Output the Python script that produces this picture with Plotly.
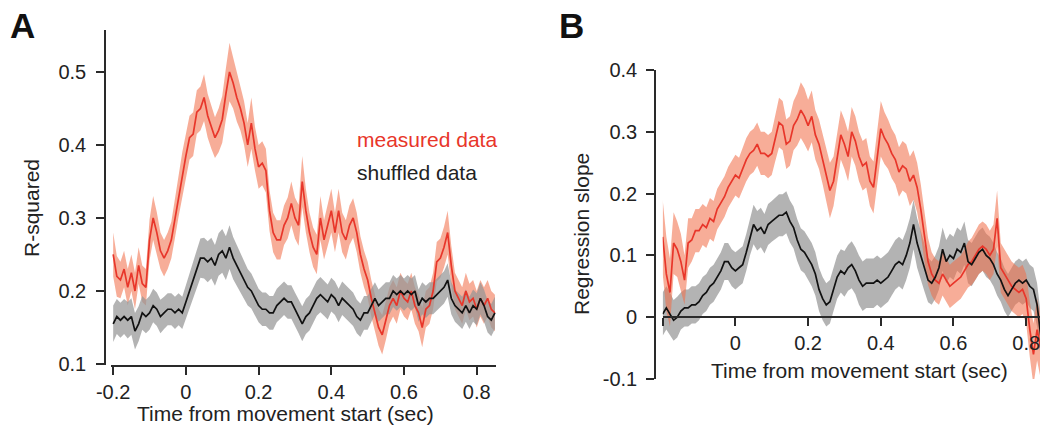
import plotly.graph_objects as go

W, H = 1040, 425

# ---------------- data ----------------
time_a = [round(-0.20 + 0.01 * i, 2) for i in range(106)]   # -0.20 .. 0.85

measured_a = [
    0.25, 0.22, 0.215, 0.23, 0.205, 0.225, 0.20, 0.235, 0.21, 0.205,
    0.27, 0.30, 0.28, 0.255, 0.245, 0.255, 0.27, 0.30, 0.33, 0.36,
    0.385, 0.41, 0.415, 0.445, 0.45, 0.465, 0.44, 0.425, 0.41, 0.42,
    0.435, 0.47, 0.50, 0.485, 0.465, 0.45, 0.43, 0.40, 0.43, 0.395,
    0.37, 0.375, 0.365, 0.31, 0.28, 0.27, 0.27, 0.29, 0.30, 0.32,
    0.30, 0.29, 0.35, 0.31, 0.28, 0.26, 0.25, 0.30, 0.27, 0.29,
    0.31, 0.28, 0.31, 0.28, 0.27, 0.29, 0.30, 0.28, 0.25, 0.23,
    0.215, 0.19, 0.17, 0.15, 0.14, 0.16, 0.18, 0.19, 0.18, 0.20,
    0.19, 0.185, 0.20, 0.18, 0.17, 0.15, 0.175, 0.18, 0.20, 0.24,
    0.245, 0.26, 0.28, 0.235, 0.20, 0.19, 0.18, 0.20, 0.185, 0.19,
    0.175, 0.19, 0.18, 0.19, 0.175, 0.17,
]
measured_a_err = [
    0.03, 0.028, 0.025, 0.025, 0.025, 0.025, 0.025, 0.025, 0.025, 0.025,
    0.028, 0.03, 0.028, 0.025, 0.025, 0.025, 0.025, 0.027, 0.028, 0.03,
    0.03, 0.03, 0.03, 0.03, 0.03, 0.032, 0.03, 0.03, 0.028, 0.03,
    0.032, 0.035, 0.04, 0.035, 0.033, 0.03, 0.03, 0.03, 0.035, 0.03,
    0.03, 0.03, 0.03, 0.028, 0.027, 0.027, 0.027, 0.027, 0.028, 0.03,
    0.028, 0.028, 0.035, 0.03, 0.027, 0.027, 0.027, 0.03, 0.027, 0.027,
    0.03, 0.027, 0.03, 0.027, 0.027, 0.027, 0.027, 0.027, 0.025, 0.025,
    0.025, 0.025, 0.025, 0.025, 0.027, 0.027, 0.025, 0.025, 0.025, 0.025,
    0.025, 0.025, 0.025, 0.025, 0.025, 0.027, 0.025, 0.025, 0.025, 0.027,
    0.027, 0.028, 0.03, 0.027, 0.025, 0.025, 0.025, 0.025, 0.025, 0.025,
    0.025, 0.025, 0.025, 0.025, 0.025, 0.025,
]
shuffled_a = [
    0.155, 0.165, 0.16, 0.165, 0.16, 0.165, 0.145, 0.155, 0.17, 0.165,
    0.17, 0.18, 0.175, 0.165, 0.17, 0.175, 0.175, 0.17, 0.175, 0.17,
    0.185, 0.20, 0.215, 0.23, 0.245, 0.245, 0.24, 0.245, 0.235, 0.25,
    0.255, 0.245, 0.26, 0.245, 0.235, 0.225, 0.215, 0.205, 0.20, 0.19,
    0.18, 0.175, 0.175, 0.17, 0.17, 0.18, 0.185, 0.19, 0.185, 0.185,
    0.175, 0.165, 0.155, 0.165, 0.17, 0.18, 0.19, 0.195, 0.19, 0.185,
    0.195, 0.19, 0.18, 0.19, 0.185, 0.18, 0.175, 0.165, 0.16, 0.17,
    0.17, 0.18, 0.19, 0.18, 0.185, 0.19, 0.19, 0.20, 0.195, 0.20,
    0.195, 0.20, 0.195, 0.20, 0.18, 0.19, 0.185, 0.19, 0.19, 0.195,
    0.20, 0.205, 0.215, 0.19, 0.18, 0.175, 0.17, 0.18, 0.17, 0.18,
    0.175, 0.19, 0.18, 0.165, 0.16, 0.17,
]
shuffled_a_err = [
    0.025, 0.024, 0.024, 0.024, 0.025, 0.025, 0.025, 0.024, 0.023, 0.023,
    0.023, 0.023, 0.023, 0.023, 0.022, 0.022, 0.022, 0.022, 0.022, 0.022,
    0.023, 0.024, 0.025, 0.026, 0.027, 0.028, 0.028, 0.028, 0.028, 0.029,
    0.03, 0.03, 0.03, 0.029, 0.028, 0.027, 0.026, 0.025, 0.024, 0.024,
    0.023, 0.023, 0.023, 0.023, 0.023, 0.023, 0.023, 0.023, 0.023, 0.023,
    0.023, 0.023, 0.024, 0.024, 0.024, 0.024, 0.024, 0.024, 0.024, 0.024,
    0.023, 0.023, 0.023, 0.023, 0.023, 0.023, 0.023, 0.023, 0.023, 0.023,
    0.023, 0.023, 0.022, 0.022, 0.022, 0.022, 0.022, 0.022, 0.022, 0.022,
    0.022, 0.022, 0.022, 0.022, 0.022, 0.022, 0.022, 0.022, 0.022, 0.022,
    0.022, 0.022, 0.023, 0.022, 0.022, 0.022, 0.022, 0.022, 0.022, 0.022,
    0.022, 0.022, 0.022, 0.022, 0.022, 0.022,
]

time_b = [round(-0.20 + 0.01 * i, 2) for i in range(105)]   # -0.20 .. 0.84

measured_b = [
    0.13, 0.07, 0.04, 0.12, 0.11, 0.09, 0.06, 0.12, 0.125, 0.14,
    0.14, 0.15, 0.145, 0.16, 0.155, 0.175, 0.185, 0.195, 0.21, 0.22,
    0.23, 0.225, 0.24, 0.255, 0.265, 0.27, 0.28, 0.265, 0.265, 0.26,
    0.265, 0.29, 0.315, 0.31, 0.28, 0.285, 0.31, 0.32, 0.335, 0.325,
    0.31, 0.325, 0.295, 0.28, 0.255, 0.23, 0.205, 0.22, 0.26, 0.295,
    0.28, 0.26, 0.30, 0.285, 0.26, 0.245, 0.25, 0.22, 0.21, 0.26,
    0.305, 0.29, 0.28, 0.265, 0.255, 0.235, 0.245, 0.24, 0.22, 0.23,
    0.21, 0.175, 0.13, 0.09, 0.07, 0.06, 0.055, 0.07, 0.06, 0.05,
    0.055, 0.06, 0.065, 0.075, 0.085, 0.09, 0.10, 0.11, 0.115, 0.11,
    0.10, 0.11, 0.16, 0.08, 0.07, 0.06, 0.05, 0.045, 0.04, 0.045,
    0.03, -0.02, -0.06, -0.02, -0.05,
]
measured_b_err = [
    0.06, 0.06, 0.055, 0.05, 0.045, 0.045, 0.04, 0.04, 0.035, 0.035,
    0.035, 0.033, 0.033, 0.033, 0.033, 0.033, 0.033, 0.033, 0.033, 0.033,
    0.033, 0.033, 0.033, 0.035, 0.035, 0.035, 0.035, 0.035, 0.035, 0.035,
    0.035, 0.037, 0.04, 0.04, 0.04, 0.04, 0.04, 0.042, 0.045, 0.045,
    0.042, 0.042, 0.04, 0.04, 0.04, 0.04, 0.045, 0.04, 0.04, 0.04,
    0.04, 0.04, 0.04, 0.04, 0.04, 0.04, 0.04, 0.04, 0.042, 0.045,
    0.045, 0.042, 0.04, 0.04, 0.04, 0.04, 0.04, 0.04, 0.04, 0.04,
    0.04, 0.04, 0.04, 0.038, 0.035, 0.035, 0.035, 0.035, 0.035, 0.035,
    0.035, 0.035, 0.035, 0.035, 0.037, 0.038, 0.04, 0.04, 0.04, 0.04,
    0.04, 0.04, 0.045, 0.04, 0.04, 0.04, 0.04, 0.04, 0.04, 0.04,
    0.04, 0.045, 0.05, 0.05, 0.05,
]
shuffled_b = [
    0.005, 0.015, 0.005, -0.005, 0.0, 0.01, 0.015, 0.015, 0.02, 0.02,
    0.025, 0.035, 0.04, 0.05, 0.055, 0.065, 0.075, 0.09, 0.09, 0.08,
    0.075, 0.08, 0.085, 0.105, 0.13, 0.15, 0.14, 0.145, 0.135, 0.15,
    0.155, 0.16, 0.165, 0.165, 0.17, 0.155, 0.145, 0.125, 0.11, 0.105,
    0.095, 0.085, 0.07, 0.045, 0.03, 0.02, 0.025, 0.045, 0.065, 0.075,
    0.07, 0.08, 0.085, 0.075, 0.06, 0.05, 0.055, 0.055, 0.055, 0.06,
    0.055, 0.06, 0.065, 0.075, 0.085, 0.09, 0.085, 0.10, 0.12, 0.15,
    0.12, 0.10, 0.08, 0.06, 0.055, 0.065, 0.08, 0.11, 0.09, 0.10,
    0.095, 0.11, 0.105, 0.12, 0.09, 0.085, 0.095, 0.105, 0.11, 0.10,
    0.095, 0.085, 0.07, 0.06, 0.045, 0.035, 0.045, 0.055, 0.06, 0.055,
    0.06, 0.05, 0.045, 0.02, -0.03,
]
shuffled_b_err = [
    0.035, 0.035, 0.035, 0.033, 0.033, 0.03, 0.03, 0.03, 0.03, 0.03,
    0.03, 0.03, 0.03, 0.03, 0.03, 0.03, 0.03, 0.03, 0.03, 0.03,
    0.03, 0.03, 0.03, 0.03, 0.03, 0.032, 0.032, 0.032, 0.032, 0.033,
    0.033, 0.033, 0.034, 0.034, 0.034, 0.034, 0.034, 0.034, 0.034, 0.034,
    0.034, 0.035, 0.035, 0.035, 0.035, 0.035, 0.035, 0.035, 0.035, 0.035,
    0.037, 0.037, 0.038, 0.038, 0.04, 0.04, 0.04, 0.04, 0.04, 0.04,
    0.04, 0.04, 0.04, 0.04, 0.04, 0.04, 0.04, 0.04, 0.04, 0.04,
    0.04, 0.04, 0.038, 0.036, 0.035, 0.035, 0.035, 0.035, 0.035, 0.035,
    0.035, 0.035, 0.035, 0.035, 0.035, 0.035, 0.035, 0.035, 0.035, 0.035,
    0.035, 0.035, 0.035, 0.035, 0.035, 0.035, 0.035, 0.035, 0.035, 0.035,
    0.035, 0.035, 0.035, 0.035, 0.035,
]

ticks_a_x = [-0.2, 0, 0.2, 0.4, 0.6, 0.8]
ticks_a_x_text = ["-0.2", "0", "0.2", "0.4", "0.6", "0.8"]
ticks_a_y = [0.1, 0.2, 0.3, 0.4, 0.5]
ticks_a_y_text = ["0.1", "0.2", "0.3", "0.4", "0.5"]
ticks_b_x = [-0.2, 0, 0.2, 0.4, 0.6, 0.8]
ticks_b_x_text = ["", "0", "0.2", "0.4", "0.6", "0.8"]
ticks_b_y = [-0.1, 0, 0.1, 0.2, 0.3, 0.4]
ticks_b_y_text = ["-0.1", "0", "0.1", "0.2", "0.3", "0.4"]

# ---------------- styling ----------------
FONT = "Liberation Sans, Arial, sans-serif"
TXT = "#222222"
AXC = "#2a2a2a"
RED = "#e8362a"
RED_BAND = "rgba(240,108,72,0.56)"
GREY_BAND = "rgba(150,150,150,0.72)"
BLACK = "#111111"


def band(x, m, e, color, xa, ya):
    up = [a + b for a, b in zip(m, e)]
    lo = [a - b for a, b in zip(m, e)]
    return go.Scatter(x=x + x[::-1], y=up + lo[::-1], fill="toself",
                      fillcolor=color, line=dict(width=0), mode="lines",
                      hoverinfo="skip", showlegend=False, xaxis=xa, yaxis=ya)


def line(x, m, color, xa, ya, name):
    return go.Scatter(x=x, y=m, mode="lines", line=dict(color=color, width=1.7),
                      name=name, showlegend=False, xaxis=xa, yaxis=ya)


fig = go.Figure()
fig.add_trace(band(time_a, measured_a, measured_a_err, RED_BAND, "x", "y"))
fig.add_trace(band(time_a, shuffled_a, shuffled_a_err, GREY_BAND, "x", "y"))
fig.add_trace(line(time_a, measured_a, RED, "x", "y", "measured data"))
fig.add_trace(line(time_a, shuffled_a, BLACK, "x", "y", "shuffled data"))

fig.add_trace(band(time_b, shuffled_b, shuffled_b_err, GREY_BAND, "x2", "y2"))
fig.add_trace(band(time_b, measured_b, measured_b_err, RED_BAND, "x2", "y2"))
fig.add_trace(line(time_b, measured_b, RED, "x2", "y2", "measured data"))
fig.add_trace(line(time_b, shuffled_b, BLACK, "x2", "y2", "shuffled data"))


def px_x(p):
    return p / W


def px_y(p):
    return 1 - p / H


tickfont = dict(family=FONT, size=20, color=TXT)
common = dict(showgrid=False, zeroline=False, showline=True, linecolor=AXC,
              linewidth=1.6, ticks="outside", ticklen=8, tickwidth=1.6,
              tickcolor=AXC, tickfont=tickfont, fixedrange=True,
              automargin=False)

ya_dom = [px_y(365), px_y(30)]
yb_dom = [px_y(379), px_y(70)]
yb_rng = [-0.1, 0.4]
xb_pos = yb_dom[0] + (0 - yb_rng[0]) / (yb_rng[1] - yb_rng[0]) * (yb_dom[1] - yb_dom[0])

fig.update_layout(
    template="none",
    width=W, height=H, margin=dict(l=0, r=0, t=0, b=0, pad=0, autoexpand=False),
    paper_bgcolor="white", plot_bgcolor="white",
    xaxis=dict(domain=[px_x(111), px_x(496)], range=[-0.206, 0.853], anchor="y",
               tickvals=ticks_a_x, ticktext=ticks_a_x_text,
               ticklabeloverflow="allow", **common),
    yaxis=dict(domain=ya_dom, range=[0.0986, 0.5575], anchor="free",
               position=px_x(105), tickvals=ticks_a_y, ticktext=ticks_a_y_text,
               ticklabelstandoff=6, **common),
    xaxis2=dict(domain=[px_x(662.7), 1.0], range=[-0.2, 0.838], anchor="free",
                position=xb_pos, tickvals=ticks_b_x, ticktext=ticks_b_x_text,
                ticklabeloverflow="allow", **common),
    yaxis2=dict(domain=yb_dom, range=yb_rng, anchor="free", position=px_x(655),
                tickvals=ticks_b_y, ticktext=ticks_b_y_text, ticklabelstandoff=5,
                **common),
    showlegend=False,
)

title_font = dict(family=FONT, size=21, color=TXT)
ann = [
    dict(text="A", x=px_x(22.5), y=px_y(26), font=dict(family=FONT, size=35, color="#111", weight="bold")),
    dict(text="B", x=px_x(571), y=px_y(25.5), font=dict(family=FONT, size=35, color="#111", weight="bold")),
    dict(text="R-squared", x=px_x(31), y=px_y(208), textangle=-90, font=title_font),
    dict(text="Time from movement start (sec)", x=px_x(285), y=px_y(413), font=title_font),
    dict(text="Regression slope", x=px_x(582), y=px_y(234), textangle=-90, font=title_font),
    dict(text="Time from movement start (sec)", x=px_x(859), y=px_y(370), font=title_font),
    dict(text="measured data", x=px_x(355), y=px_y(140), xanchor="left",
         font=dict(family=FONT, size=21, color=RED)),
    dict(text="shuffled data", x=px_x(355), y=px_y(172), xanchor="left",
         font=dict(family=FONT, size=21, color=TXT)),
]
for a in ann:
    a.setdefault("xanchor", "center")
    a.update(xref="paper", yref="paper", yanchor="middle", showarrow=False)
    fig.add_annotation(**a)

fig.write_html("out.html")
